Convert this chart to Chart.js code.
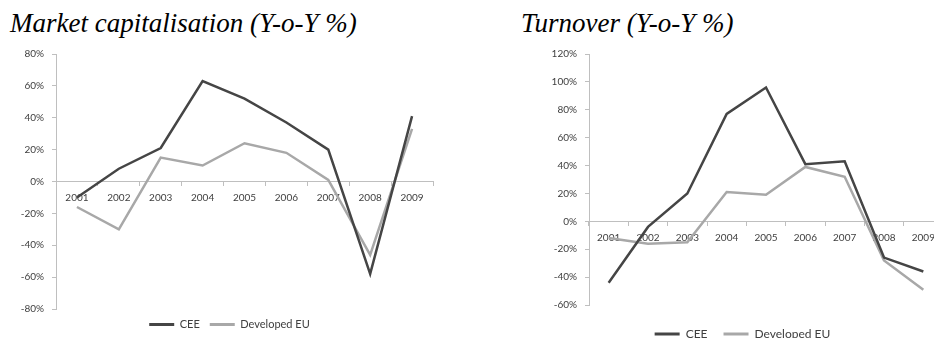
<!DOCTYPE html>
<html>
<head>
<meta charset="utf-8">
<script src="https://cdn.jsdelivr.net/npm/chart.js@4.4.1/dist/chart.umd.min.js"></script>
<style>
  html, body { margin: 0; padding: 0; background: #fff; }
  body { width: 934px; height: 338px; position: relative; overflow: hidden; }
  .title { position: absolute; font-family: "Liberation Serif", "Times New Roman", serif; font-style: italic;
           font-size: 27px; line-height: 1; color: #000; white-space: nowrap; }
  .panel { position: absolute; }
</style>
</head>
<body>
<div class="title" style="left:10px; top:10px;">Market capitalisation (Y-o-Y %)</div>
<div class="title" style="left:521px; top:10px;">Turnover (Y-o-Y %)</div>
<div class="panel" style="left:0px; top:40px;"><canvas id="capChart" width="460" height="300"></canvas></div>
<div class="panel" style="left:500px; top:40px;"><canvas id="turnChart" width="472" height="310"></canvas></div>

<script>
// Years on the category axis
const years = ['2001', '2002', '2003', '2004', '2005', '2006', '2007', '2008', '2009'];

// Market capitalisation, year-on-year change (%)
const capCEE = [-10, 8, 21, 63, 52, 37, 20, -58, 41];
const capDevelopedEU = [-16, -30, 15, 10, 24, 18, 1, -46, 33];

// Turnover, year-on-year change (%)
const turnCEE = [-44, -4, 20, 77, 96, 41, 43, -26, -36];
const turnDevelopedEU = [-12, -16, -15, 21, 19, 39, 32, -28, -49];

// Value-axis ranges
const capAxis = { min: -80, max: 80, step: 20 };
const turnAxis = { min: -60, max: 120, step: 20 };

const seriesNames = ['CEE', 'Developed EU'];
const darkLine = '#454545';
const lightLine = '#a8a8a8';
const axisGrey = '#bfbfbf';
const labelGrey = '#404040';
const sansFamily = 'Lato, "Open Sans", sans-serif';
const tickFont = { family: sansFamily, size: 10 };

// Slides the legend sideways after layout so it sits under the middle of the panel
const legendNudge = {
  id: 'legendNudge',
  afterLayout(chart, args, opts) {
    const lg = chart.legend;
    if (lg && opts.dx) { lg.left += opts.dx; lg.right += opts.dx; }
  }
};

function buildChart(canvasId, cee, devEU, axis, look) {
  return new Chart(document.getElementById(canvasId), {
    type: 'line',
    data: {
      labels: years,
      datasets: [
        { label: seriesNames[0], data: cee, borderColor: darkLine, backgroundColor: darkLine,
          borderWidth: 2.5, pointRadius: 0, tension: 0 },
        { label: seriesNames[1], data: devEU, borderColor: lightLine, backgroundColor: lightLine,
          borderWidth: 2.5, pointRadius: 0, tension: 0 }
      ]
    },
    plugins: [legendNudge],
    options: {
      responsive: false,
      animation: false,
      devicePixelRatio: 1,
      layout: { padding: look.pad },
      plugins: {
        title: { display: false },
        tooltip: { enabled: false },
        legendNudge: { dx: look.legendShift },
        legend: {
          position: 'bottom',
          labels: {
            font: { family: sansFamily, size: look.legendSize },
            color: labelGrey,
            boxWidth: 25,
            boxHeight: 3,
            padding: look.legendPad,
            generateLabels(chart) {
              return chart.data.datasets.map((ds, i) => ({
                text: ds.label,
                fillStyle: ds.borderColor,
                strokeStyle: ds.borderColor,
                lineWidth: 0,
                fontColor: labelGrey,
                hidden: false,
                datasetIndex: i
              }));
            }
          }
        }
      },
      scales: {
        x: {
          position: { y: 0 },
          offset: true,
          grid: { display: true, drawOnChartArea: false, offset: true, tickLength: 4, color: axisGrey },
          border: { display: true, color: axisGrey, width: 1 },
          ticks: { font: tickFont, color: labelGrey, padding: 6, maxRotation: 0, autoSkip: false }
        },
        y: {
          min: axis.min,
          max: axis.max,
          afterFit(scale) { scale.width = look.yWidth; },
          grid: { display: true, drawOnChartArea: false, tickLength: 4, color: axisGrey },
          border: { display: true, color: axisGrey, width: 1 },
          ticks: {
            stepSize: axis.step,
            font: tickFont,
            color: labelGrey,
            padding: 8,
            callback: v => v + '%'
          }
        },
        // empty band between the plot and the legend
        gap: {
          type: 'linear',
          position: 'bottom',
          afterFit(scale) { scale.height = look.legendGap; },
          grid: { display: false },
          border: { display: false },
          ticks: { display: false }
        }
      }
    }
  });
}

buildChart('capChart', capCEE, capDevelopedEU, capAxis,
  { yWidth: 56, legendGap: 0, legendSize: 11, legendPad: 10, legendShift: 13,
    pad: { left: 0, right: 27, top: 14, bottom: 0 } });
buildChart('turnChart', turnCEE, turnDevelopedEU, turnAxis,
  { yWidth: 89, legendGap: 7, legendSize: 12, legendPad: 16, legendShift: 21,
    pad: { left: 0, right: 29, top: 10, bottom: 0 } });
</script>
</body>
</html>
